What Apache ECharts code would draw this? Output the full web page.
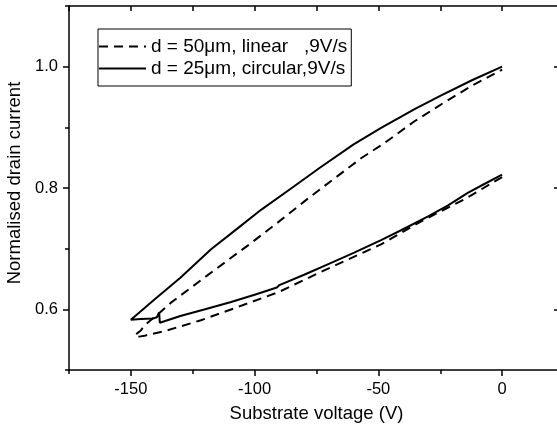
<!DOCTYPE html>
<html>
<head>
<meta charset="utf-8">
<script src="https://cdn.jsdelivr.net/npm/echarts@6/dist/echarts.min.js"></script>
<style>html,body{margin:0;padding:0;background:#fff}#c{width:557px;height:434px}</style>
</head>
<body>
<div id="c"></div>
<script>
// Series names
var seriesNames = ['d = 50\u03bcm, linear   ,9V/s', 'd = 25\u03bcm, circular,9V/s'];

// Dashed loop (d = 50 um, linear): lower branch from 0 V to -148 V, then upper branch back to 0 V
var dashedV = [0, -15, -32.7, -48.9, -65, -74.6, -90, -108, -121.7, -136.4, -144, -146.6, -148.5,
  -146, -144.6, -138.5, -133.8, -121.7, -109.5, -102.8, -91, -79.9, -68, -57, -47.6, -35.4, -23, -12, 0];
var dashedI = [0.818, 0.782, 0.745, 0.707, 0.677, 0.659, 0.629, 0.602, 0.582, 0.564, 0.557, 0.555, 0.557,
  0.565, 0.573, 0.594, 0.611, 0.648, 0.685, 0.705, 0.742, 0.778, 0.815, 0.849, 0.874, 0.910, 0.942, 0.969, 0.995];

// Solid loop (d = 25 um, circular): lower branch from 0 V to -150 V, then upper branch back to 0 V
var solidV = [0, -7, -13.9, -22, -30.1, -40, -48.9, -60, -70, -80, -90, -91, -100, -109.5, -120, -130, -138.3, -138.6, -139.5, -141, -146, -150,
  -140, -130, -117.6, -107, -97.4, -85, -73.8, -60, -48.9, -35, -25, -12, 0];
var solidI = [0.822, 0.807, 0.792, 0.771, 0.753, 0.732, 0.714, 0.693, 0.675, 0.657, 0.640, 0.636, 0.624, 0.612, 0.600, 0.589, 0.578, 0.595, 0.587, 0.585, 0.584, 0.583,
  0.618, 0.652, 0.699, 0.733, 0.764, 0.800, 0.833, 0.872, 0.899, 0.931, 0.952, 0.978, 1.0];

// Axis ticks / labels
var xMajor = [-150, -100, -50, 0];
var xMinor = [-175, -125, -75, -25, 25];
var xAll = [-175, -150, -125, -100, -75, -50, -25, 0, 25];
var yMajor = [0.6, 0.8, 1.0];
var yMinor = [0.5, 0.7, 0.9, 1.1];

function pairs(xs, ys) { return xs.map(function (x, i) { return [x, ys[i]]; }); }

var FONT = 'Liberation Sans, Arial, sans-serif';
var chart = echarts.init(document.getElementById('c'), null, {renderer: 'canvas'});
var axLine = {show: true, onZero: false, lineStyle: {color: '#000', width: 1.5}};
var noLine = {show: false, onZero: false};
var option = {
  animation: false,
  backgroundColor: '#fff',
  grid: {left: 69, top: 6, width: 495, height: 364, containLabel: false, outerBoundsMode: 'none'},
  legend: {
    orient: 'vertical', left: 98, top: 29,
    data: [seriesNames[0], seriesNames[1]],
    itemWidth: 47, itemHeight: 14, itemGap: 3,
    padding: [8, 4, 8, 0],
    borderColor: '#000', borderWidth: 1,
    itemStyle: {color: 'rgba(0,0,0,0)', borderColor: 'rgba(0,0,0,0)', borderWidth: 0},
    textStyle: {fontFamily: FONT, fontSize: 19, color: '#000', lineHeight: 18}
  },
  xAxis: [
    {type: 'value', min: -175, max: 25, position: 'bottom',
     name: 'Substrate voltage (V)', nameLocation: 'middle', nameGap: 34,
     nameTextStyle: {fontFamily: FONT, fontSize: 18.5, color: '#000'},
     axisLine: axLine,
     axisTick: {show: true, inside: false, length: 6, customValues: xMajor, lineStyle: {color: '#000', width: 1.5}},
     axisLabel: {show: true, customValues: xMajor, margin: 11, fontFamily: FONT, fontSize: 16.5, color: '#000'},
     splitLine: {show: false}},
    {type: 'value', min: -175, max: 25, position: 'bottom',
     axisLine: noLine,
     axisTick: {show: true, inside: false, length: 4, customValues: xMinor, lineStyle: {color: '#000', width: 1.5}},
     axisLabel: {show: false}, splitLine: {show: false}},
    {type: 'value', min: -175, max: 25, position: 'top',
     axisLine: axLine,
     axisTick: {show: true, inside: true, length: 5, customValues: xAll, lineStyle: {color: '#000', width: 1.5}},
     axisLabel: {show: false}, splitLine: {show: false}}
  ],
  yAxis: [
    {type: 'value', min: 0.5, max: 1.1, position: 'left',
     name: 'Normalised drain current', nameLocation: 'middle', nameGap: 38,
     nameTextStyle: {fontFamily: FONT, fontSize: 18.5, color: '#000', padding: [0, 0, 0, 10]},
     axisLine: axLine,
     axisTick: {show: true, inside: false, length: 6, customValues: yMajor, lineStyle: {color: '#000', width: 1.5}},
     axisLabel: {show: true, customValues: yMajor, margin: 11, fontFamily: FONT, fontSize: 16.5, color: '#000',
       formatter: function (v) { return v.toFixed(1); }},
     splitLine: {show: false}},
    {type: 'value', min: 0.5, max: 1.1, position: 'left',
     axisLine: noLine,
     axisTick: {show: true, inside: false, length: 4, customValues: yMinor, lineStyle: {color: '#000', width: 1.5}},
     axisLabel: {show: false}, splitLine: {show: false}},
    {type: 'value', min: 0.5, max: 1.1, position: 'right',
     axisLine: axLine,
     axisTick: {show: true, inside: true, length: 10, customValues: yMajor, lineStyle: {color: '#000', width: 1.5}},
     axisLabel: {show: false}, splitLine: {show: false}}
  ],
  series: [
    {name: seriesNames[0], type: 'line', xAxisIndex: 0, yAxisIndex: 0,
     data: pairs(dashedV, dashedI), showSymbol: false, symbol: 'none', smooth: false,
     lineStyle: {color: '#000', width: 2, type: [9, 6]}, itemStyle: {color: '#000'}},
    {name: seriesNames[1], type: 'line', xAxisIndex: 0, yAxisIndex: 0,
     data: pairs(solidV, solidI), showSymbol: false, symbol: 'none', smooth: false,
     lineStyle: {color: '#000', width: 2, type: 'solid'}, itemStyle: {color: '#000'}}
  ]
};
chart.setOption(option);
</script>
</body>
</html>
